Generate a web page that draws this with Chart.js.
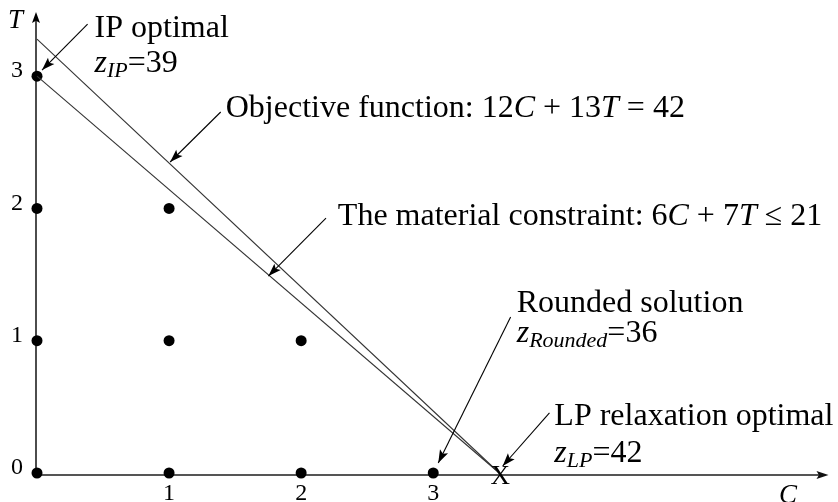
<!DOCTYPE html>
<html>
<head>
<meta charset="utf-8">
<script src="https://cdn.jsdelivr.net/npm/chart.js@4/dist/chart.umd.min.js"></script>
<style>
  html, body { margin: 0; padding: 0; background: #fff; }
  #wrap { width: 838px; height: 502px; }
</style>
</head>
<body>
<div id="wrap"><canvas id="chart" width="838" height="502"></canvas></div>
<script>
// integer feasible points (C, T)
const pointsC = [0, 1, 2, 3, 0, 1, 2, 0, 1, 0];
const pointsT = [0, 0, 0, 0, 1, 1, 1, 2, 2, 3];

// objective function line and material constraint line
const objectiveC = [0, 3.5];
const objectiveT = [3.28, 0];
const constraintC = [0, 3.5];
const constraintT = [3, 0];

// LP relaxation optimum, marked with an X
const lpOptimum = [3.5, 0];

const xTickLabels = [1, 2, 3];
const yTickLabels = [0, 1, 2, 3];

const SERIF = '"Liberation Serif", "Times New Roman", serif';

// annotation texts: pieces of [text, style]  r = roman, i = italic, s = italic subscript
const notes = [
  { at: [0.436, 3.296], parts: [["IP optimal", "r"]] },
  { at: [0.436, 3.031], parts: [["z", "i"], ["IP", "s"], ["=39", "r"]] },
  { at: [1.429, 2.691], parts: [["Objective function: 12", "r"], ["C", "i"], [" + 13", "r"], ["T", "i"], [" = 42", "r"]] },
  { at: [2.278, 1.875], parts: [["The material constraint: 6", "r"], ["C", "i"], [" + 7", "r"], ["T", "i"], [" \u2264 21", "r"]] },
  { at: [3.632, 1.217], parts: [["Rounded solution", "r"]] },
  { at: [3.632, 0.990], parts: [["z", "i"], ["Rounded", "s"], ["=36", "r"]] },
  { at: [3.917, 0.363], parts: [["LP relaxation optimal", "r"]] },
  { at: [3.917, 0.083], parts: [["z", "i"], ["LP", "s"], ["=42", "r"]] }
];

// arrows: from [C, T] to [C, T]
const arrows = [
  [[0.383, 3.394], [0.038, 3.046]],
  [[1.391, 2.729], [1.008, 2.351]],
  [[2.188, 1.927], [1.752, 1.489]],
  [[3.586, 1.179], [3.038, 0.076]],
  [[3.880, 0.454], [3.526, 0.053]]
];

function arrowHead(ctx, x1, y1, x2, y2, len, half) {
  const a = Math.atan2(y2 - y1, x2 - x1);
  ctx.beginPath();
  ctx.moveTo(x2, y2);
  ctx.lineTo(x2 - len * Math.cos(a) + half * Math.sin(a), y2 - len * Math.sin(a) - half * Math.cos(a));
  ctx.lineTo(x2 - len * Math.cos(a) * 0.8, y2 - len * Math.sin(a) * 0.8);
  ctx.lineTo(x2 - len * Math.cos(a) - half * Math.sin(a), y2 - len * Math.sin(a) + half * Math.cos(a));
  ctx.closePath();
  ctx.fill();
}

function drawRich(ctx, x, y, parts) {
  let cx = x;
  parts.forEach(([t, st]) => {
    let dy = 0;
    if (st === "r") ctx.font = "32px " + SERIF;
    else if (st === "i") ctx.font = "italic 32px " + SERIF;
    else { ctx.font = "italic 22px " + SERIF; dy = 5; }
    ctx.fillText(t, cx, y + dy);
    cx += ctx.measureText(t).width;
  });
}

const overlay = {
  id: "overlay",
  beforeDatasetsDraw(chart) {
    const ctx = chart.ctx;
    const xs = chart.scales.x, ys = chart.scales.y;
    const x0 = xs.getPixelForValue(0), y0 = ys.getPixelForValue(0);
    ctx.save();
    // y axis
    ctx.strokeStyle = "#000";
    ctx.fillStyle = "#000";
    ctx.lineWidth = 1.4;
    ctx.beginPath();
    ctx.moveTo(x0 - 1, y0 + 2);
    ctx.lineTo(x0 - 1, chart.chartArea.top + 6);
    ctx.stroke();
    arrowHead(ctx, x0 - 1, y0, x0 - 1, chart.chartArea.top + 2, 11, 4);
    // x axis
    ctx.strokeStyle = "#555";
    ctx.fillStyle = "#111";
    ctx.lineWidth = 2;
    ctx.beginPath();
    ctx.moveTo(x0 - 1, y0 + 2);
    ctx.lineTo(chart.chartArea.right - 8, y0 + 2);
    ctx.stroke();
    arrowHead(ctx, x0, y0 + 2, chart.chartArea.right - 4, y0 + 2, 12, 4);

    // tick labels
    ctx.fillStyle = "#000";
    ctx.font = "24px " + SERIF;
    ctx.textAlign = "right";
    ctx.textBaseline = "middle";
    yTickLabels.forEach(v => ctx.fillText(String(v), 23, ys.getPixelForValue(v) - 5));
    ctx.textAlign = "center";
    ctx.textBaseline = "top";
    xTickLabels.forEach(v => ctx.fillText(String(v), xs.getPixelForValue(v), y0 + 9));

    // axis names
    ctx.font = "italic 27px " + SERIF;
    ctx.textAlign = "left";
    ctx.textBaseline = "alphabetic";
    ctx.fillText("T", 8, 28);
    ctx.fillText("C", 779, 503);
    ctx.restore();
  },
  afterDatasetsDraw(chart) {
    const ctx = chart.ctx;
    const xs = chart.scales.x, ys = chart.scales.y;
    const px = c => xs.getPixelForValue(c), py = t => ys.getPixelForValue(t);
    ctx.save();
    ctx.fillStyle = "#000";
    ctx.strokeStyle = "#000";

    // X marker at LP optimum
    ctx.font = "27px " + SERIF;
    ctx.textAlign = "center";
    ctx.textBaseline = "middle";
    ctx.fillText("X", px(lpOptimum[0]) + 1, py(lpOptimum[1]) + 4);

    ctx.textAlign = "left";
    ctx.textBaseline = "alphabetic";
    notes.forEach(n => drawRich(ctx, px(n.at[0]), py(n.at[1]), n.parts));

    ctx.lineWidth = 1.1;
    arrows.forEach(([a, b]) => {
      const x1 = px(a[0]), y1 = py(a[1]), x2 = px(b[0]), y2 = py(b[1]);
      ctx.beginPath();
      ctx.moveTo(x1, y1);
      ctx.lineTo(x2, y2);
      ctx.stroke();
      arrowHead(ctx, x1, y1, x2, y2, 13, 4.5);
    });
    ctx.restore();
  }
};

const toXY = (cs, ts) => cs.map((c, i) => ({ x: c, y: ts[i] }));

new Chart(document.getElementById("chart"), {
  type: "scatter",
  data: {
    datasets: [
      {
        label: "Objective function",
        data: toXY(objectiveC, objectiveT),
        showLine: true,
        borderColor: "#333",
        borderWidth: 1.1,
        pointRadius: 0
      },
      {
        label: "Material constraint",
        data: toXY(constraintC, constraintT),
        showLine: true,
        borderColor: "#333",
        borderWidth: 1.1,
        pointRadius: 0
      },
      {
        label: "Integer points",
        data: toXY(pointsC, pointsT),
        backgroundColor: "#000",
        borderColor: "#000",
        pointRadius: 5.5,
        borderWidth: 0
      }
    ]
  },
  options: {
    responsive: false,
    animation: false,
    clip: false,
    layout: { padding: { left: 37, right: 0, top: 10, bottom: 29 } },
    plugins: {
      legend: { display: false },
      tooltip: { enabled: false }
    },
    scales: {
      x: { type: "linear", min: 0, max: 6.023, display: false },
      y: { type: "linear", min: 0, max: 3.5, display: false }
    }
  },
  plugins: [overlay]
});
</script>
</body>
</html>
